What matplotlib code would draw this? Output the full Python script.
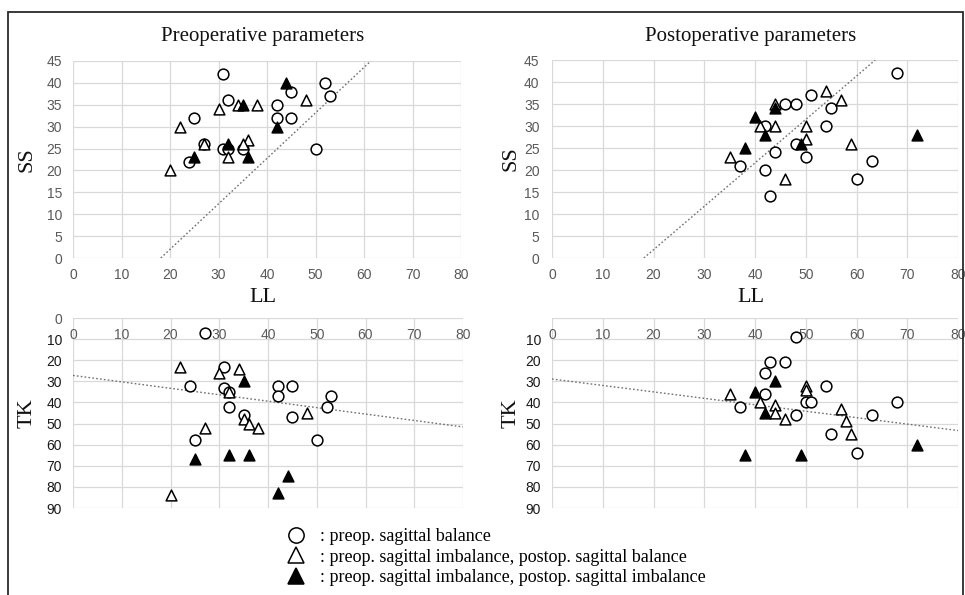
import matplotlib
matplotlib.use('Agg')
import matplotlib.pyplot as plt
from matplotlib.lines import Line2D
from matplotlib.patches import Rectangle

# ---------------- data ----------------
# Preoperative: LL vs SS
pre_ss_bal_ll = [31, 52, 45, 53, 32, 42, 25, 42, 45, 27, 31, 32, 35, 50, 24]
pre_ss_bal_ss = [42, 40, 38, 37, 36, 35, 32, 32, 32, 26, 25, 25, 25, 25, 22]
pre_ss_ib_ll = [48, 34, 38, 30, 22, 27, 36, 35, 32, 20]
pre_ss_ib_ss = [36, 35, 35, 34, 30, 26, 27, 26, 23, 20]
pre_ss_ii_ll = [44, 35, 42, 32, 36, 25]
pre_ss_ii_ss = [40, 35, 30, 26, 23, 23]

# Preoperative: LL vs TK
pre_tk_bal_ll = [27, 31, 24, 31, 32, 42, 45, 42, 53, 52, 32, 45, 35, 25, 50]
pre_tk_bal_tk = [7, 23, 32, 33, 35, 32, 32, 37, 37, 42, 42, 47, 46, 58, 58]
pre_tk_ib_ll = [22, 30, 34, 32, 48, 35, 36, 38, 27, 20]
pre_tk_ib_tk = [23, 26, 24, 35, 45, 48, 50, 52, 52, 84]
pre_tk_ii_ll = [35, 25, 32, 36, 44, 42]
pre_tk_ii_tk = [30, 67, 65, 65, 75, 83]

# Postoperative: LL vs SS
post_ss_bal_ll = [68, 51, 46, 48, 55, 42, 54, 48, 44, 50, 63, 37, 42, 60, 43]
post_ss_bal_ss = [42, 37, 35, 35, 34, 30, 30, 26, 24, 23, 22, 21, 20, 18, 14]
post_ss_ib_ll = [54, 57, 44, 41, 44, 50, 50, 59, 35, 46]
post_ss_ib_ss = [38, 36, 35, 30, 30, 30, 27, 26, 23, 18]
post_ss_ii_ll = [44, 40, 42, 72, 49, 38]
post_ss_ii_ss = [34, 32, 28, 28, 26, 25]

# Postoperative: LL vs TK
post_tk_bal_ll = [48, 43, 46, 42, 54, 42, 50, 51, 68, 37, 48, 63, 55, 60]
post_tk_bal_tk = [9, 21, 21, 26, 32, 36, 40, 40, 40, 42, 46, 46, 55, 64]
post_tk_ib_ll = [50, 50, 35, 41, 44, 44, 46, 57, 58, 59]
post_tk_ib_tk = [32, 34, 36, 40, 41, 45, 48, 43, 49, 55]
post_tk_ii_ll = [44, 40, 42, 72, 38, 49]
post_tk_ii_tk = [30, 35, 45, 60, 65, 65]

# reference (dotted) lines: LL values and corresponding y values
pre_ss_line_ll, pre_ss_line_y = [18.1, 61.4], [0, 45]
post_ss_line_ll, post_ss_line_y = [18.1, 63.7], [0, 45]
pre_tk_line_ll, pre_tk_line_y = [0, 80], [27.2, 51.6]
post_tk_line_ll, post_tk_line_y = [0, 80], [28.9, 53.3]

titles = ['Preoperative parameters', 'Postoperative parameters']
legend_labels = [': preop. sagittal balance',
                 ': preop. sagittal imbalance, postop. sagittal balance',
                 ': preop. sagittal imbalance, postop. sagittal imbalance']
x_ticks = list(range(0, 81, 10))
ss_ticks = list(range(0, 46, 5))
tk_ticks = list(range(0, 91, 10))

# ---------------- style ----------------
SERIF = 'Liberation Serif'
SANS = 'Liberation Sans'
plt.rcParams['font.family'] = [SANS, 'DejaVu Sans']

W, H = 965, 595
fig = plt.figure(figsize=(W / 100, H / 100), dpi=100)
fig.patch.set_facecolor('white')

def axes_px(l, t, r, b):
    return fig.add_axes([l / W, 1 - b / H, (r - l) / W, (b - t) / H])

GRID = '#d9d9d9'
TICK = '#595959'
MS = 60
series_styles = [
    dict(marker='o', facecolors='white', edgecolors='black'),
    dict(marker='^', facecolors='white', edgecolors='black'),
    dict(marker='^', facecolors='black', edgecolors='black'),
]

def base(ax):
    for s in ax.spines.values():
        s.set_visible(False)
    ax.set_xlim(0, 80)
    ax.set_xticks(x_ticks)
    ax.grid(True, color=GRID, lw=0.9)
    ax.set_axisbelow(True)
    ax.tick_params(length=0, labelsize=10, labelcolor=TICK)

def draw(ax, series, line):
    ax.plot(line[0], line[1], ls=(0, (1.2, 1.6)), color='#707070', lw=1.0, zorder=2)
    for (xs, ys), st in zip(series, series_styles):
        ax.scatter(xs, ys, s=MS, linewidths=1.1, zorder=3, **st)

ax_tl = axes_px(73, 61, 461, 258)
ax_tr = axes_px(552, 60, 958, 258)
ax_bl = axes_px(73, 318, 463, 508)
ax_br = axes_px(552, 318, 958, 508)

for ax in (ax_tl, ax_tr):
    base(ax)
    ax.set_ylim(0, 45)
    ax.set_yticks(ss_ticks)
    ax.tick_params(axis='x', pad=7)
    ax.tick_params(axis='y', pad=8)

for ax in (ax_bl, ax_br):
    base(ax)
    ax.set_ylim(90, 0)
    ax.set_yticks(tk_ticks)
    ax.tick_params(axis='x', top=True, labeltop=True, bottom=False,
                   labelbottom=False, pad=-17)
    ax.tick_params(axis='y', pad=8)

ax_tr.tick_params(axis='y', pad=9)
ax_bl.set_yticklabels([str(t) for t in tk_ticks])
ax_br.set_yticklabels([''] + [str(t) for t in tk_ticks[1:]])
for ax in (ax_bl, ax_br):
    labs = ax.get_yticklabels()
    for i, lab in enumerate(labs):
        lab.set_color(TICK if i == 0 else '#1a1a1a')

draw(ax_tl, [(pre_ss_bal_ll, pre_ss_bal_ss), (pre_ss_ib_ll, pre_ss_ib_ss),
             (pre_ss_ii_ll, pre_ss_ii_ss)], (pre_ss_line_ll, pre_ss_line_y))
draw(ax_tr, [(post_ss_bal_ll, post_ss_bal_ss), (post_ss_ib_ll, post_ss_ib_ss),
             (post_ss_ii_ll, post_ss_ii_ss)], (post_ss_line_ll, post_ss_line_y))
draw(ax_bl, [(pre_tk_bal_ll, pre_tk_bal_tk), (pre_tk_ib_ll, pre_tk_ib_tk),
             (pre_tk_ii_ll, pre_tk_ii_tk)], (pre_tk_line_ll, pre_tk_line_y))
draw(ax_br, [(post_tk_bal_ll, post_tk_bal_tk), (post_tk_ib_ll, post_tk_ib_tk),
             (post_tk_ii_ll, post_tk_ii_tk)], (post_tk_line_ll, post_tk_line_y))

# titles and axis titles
for ax, t in zip((ax_tl, ax_tr), titles):
    p = ax.get_position()
    fig.text(p.x0 + p.width / 2 - 4 / W, 1 - 37 / H, t, family=SERIF,
             fontsize=15, ha='center', va='center', color='#111111')
    fig.text(p.x0 + p.width / 2 - 4 / W, 1 - 297 / H, 'LL', family=SERIF,
             fontsize=16, ha='center', va='center', color='#111111')

for x_px, ax_top, ax_bot in ((27, ax_tl, ax_bl), (511, ax_tr, ax_br)):
    p1 = ax_top.get_position()
    p2 = ax_bot.get_position()
    fig.text(x_px / W, p1.y0 + p1.height / 2, 'SS', family=SERIF, fontsize=16,
             rotation=90, ha='center', va='center', color='#111111')
    fig.text(x_px / W, p2.y0 + p2.height / 2, 'TK', family=SERIF, fontsize=16,
             rotation=90, ha='center', va='center', color='#111111')

# legend
handles = [
    Line2D([], [], ls='none', marker='o', ms=11, mfc='white', mec='black', mew=1.1),
    Line2D([], [], ls='none', marker='^', ms=11, mfc='white', mec='black', mew=1.1),
    Line2D([], [], ls='none', marker='^', ms=11, mfc='black', mec='black', mew=1.1),
]
fig.legend(handles, legend_labels, loc='upper left',
           bbox_to_anchor=(288 / W, 1 - 528 / H), frameon=False,
           prop={'family': SERIF, 'size': 13}, handlelength=0.9,
           handletextpad=0.85, labelspacing=0.2, borderpad=0, borderaxespad=0)

# outer frame
fig.add_artist(Rectangle((8 / W, -0.05), (963 - 8) / W, 1.05 - 12 / H,
                         transform=fig.transFigure, fill=False,
                         edgecolor='#2a2a2a', lw=1.3))

fig.savefig('out.png', dpi=100, facecolor='white')
